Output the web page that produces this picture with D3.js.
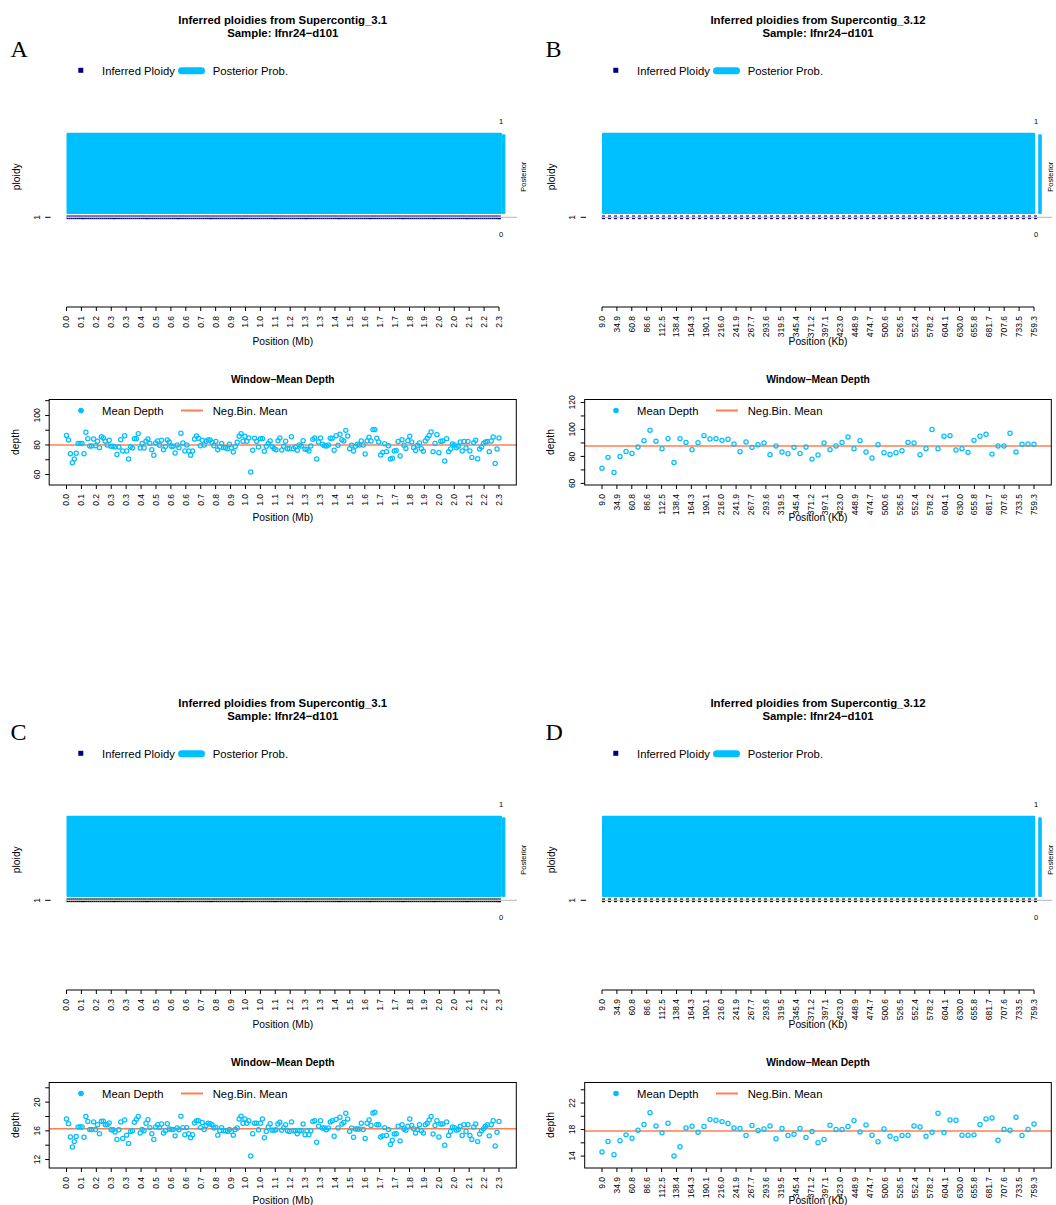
<!DOCTYPE html>
<html><head><meta charset="utf-8">
<script src="https://cdn.jsdelivr.net/npm/d3@7"></script>
<style>body{margin:0;background:#fff} svg text{font-family:"Liberation Sans",Arial,Helvetica,sans-serif}</style>
</head><body><svg id="c" width="1056" height="1205"></svg>
<script>
const sampleName = "Ifnr24\u2212d101";
const panelLetters = ["A","B","C","D"];
const contigs = ["Supercontig_3.1","Supercontig_3.12","Supercontig_3.1","Supercontig_3.12"];
const units = ["Mb","Kb","Mb","Kb"];
const tickLabelsMb = ["0.0","0.1","0.2","0.3","0.3","0.4","0.5","0.6","0.6","0.7","0.8","0.9","1.0","1.0","1.1","1.2","1.3","1.3","1.4","1.5","1.6","1.7","1.7","1.8","1.9","2.0","2.0","2.1","2.2","2.3"];
const tickLabelsKb = ["9.0","34.9","60.8","86.6","112.5","138.4","164.3","190.1","216.0","241.9","267.7","293.6","319.5","345.4","371.2","397.1","423.0","448.9","474.7","500.6","526.5","552.4","578.2","604.1","630.0","655.8","681.7","707.6","733.5","759.3"];

const depthA = [86.5,83.4,74.1,68,70.5,74.4,81.1,81.1,81,74.1,
88.6,84.3,79.3,79.3,84,79.5,82.5,78.2,85.6,84.7,
82.5,80,83.2,79.1,79.1,78.6,73.5,78.6,83.6,75.9,
86.3,75.9,70.5,78.9,78,84.3,84.3,87.7,78,81.1,
78,82.5,84,81.1,76.8,73,81.4,82.7,79.8,83.2,
76.8,78.9,83.4,82,79.1,79.1,74.6,80,78.2,87.9,
81.4,75.9,80,75.9,73,75.9,84,86.1,84.5,79.5,
83.2,80,82.5,83.4,83.4,81.8,79.5,82.3,76.8,78.6,
81.1,78.2,78.2,77.5,80.5,78,75.3,78.9,81.8,85.9,
87.7,82.5,85.9,82.5,84.7,61.7,76.4,84.5,82.5,78.6,
84.3,84.3,75.7,79.1,81.1,82.7,78.9,77.7,76.8,82.9,
84.7,76.6,79.1,82.5,77.5,77.5,85.6,77.5,78.6,76.4,
80,79.3,82.9,77.1,77.1,75.9,79.3,83.8,84.7,70.5,
82,84.7,80.5,79.5,79.3,80,84.5,84.5,76.4,86.3,
79.8,87.2,83.6,82.7,89.9,86.1,77.5,79.8,75.9,79.1,
80.5,80,82.7,80,73.9,82.7,85.2,82.7,90.4,90.4,
84.5,82,73.2,75,80.9,75.5,79.5,70.5,71,75.9,
76.2,82.3,72.6,83.6,79.8,77.7,82.9,85.9,82,78.2,
76.2,79.8,81.4,77.5,75.7,82.7,84.5,86.5,88.8,75.5,
81.1,87,74.8,82.5,82.7,69.2,84.3,75.5,77.3,80.7,
80,78.2,79.1,82,75.9,82.3,78,82.3,75.9,71.6,
81.6,83.2,70.7,77.3,78.6,81.1,82,82.3,75.5,82.7,
85.4,67.4,77.3,84.7];

const depthB = [71.3,79.3,68.1,80,83.7,82.2,87,91.7,99.4,91.2,
85.7,93.2,75.5,93.2,90.4,85,90.2,95.4,92.9,93.2,
91.9,92.7,89.2,83.5,90.7,86.7,88.7,90,81.2,87.7,
83.2,82,86.7,82.2,87,78,81,90,85,87.7,
90.4,94.4,85.7,91.7,83.2,78.8,88.7,82.7,81.5,82.7,
84.2,90.4,90,81.2,85.7,99.9,85.7,94.9,95.4,84.7,
85.7,83,91.9,94.9,96.4,81.7,87.7,87.7,97.2,83.2,
89,89.2,89];

const depthC = [17.65,17.0,15.15,13.75,14.5,15.2,16.55,16.55,16.55,15.1,
18,17.3,16.2,16.2,17.25,16.2,16.85,15.6,17.35,17.35,
16.85,16.85,17.1,16.15,16.15,15.85,14.8,16.15,17.25,14.95,
17.5,15.4,14.25,15.9,16,17.2,17.6,18,15.7,16.2,
16,17.05,17.55,16.45,15.6,14.8,16.55,16.85,16.45,16.95,
15.7,16,17,16.25,16.2,16.2,15.3,16.4,16.15,18.05,
16.45,15.45,16.45,15.6,15.05,15.45,17.1,17.4,17.4,16.45,
17.15,16.2,16.75,17.05,17,16.85,16.4,16.5,15.4,16,
16.45,16,16,15.9,16.2,15.9,15.4,16.2,16.4,17.65,
18.05,17.05,17.65,17.05,17.4,12.5,15.6,17.05,17.05,16.15,
17.05,17.65,15.05,15.9,16.55,17,16.1,16.1,16.15,16.95,
17.2,16.1,16.45,16.85,16,15.9,17.25,16,16,15.6,
16,16,16.95,15.45,16,15.45,16,17.3,17.4,14.4,
16.65,17.4,16.4,16.4,16.15,16.4,17.25,17.4,15.25,17.6,
16.4,17.9,16.95,17.15,18.45,17.65,15.9,16.4,15.1,16.25,
16.25,16.25,17.05,16.2,14.95,17.05,17.5,16.75,18.5,18.6,
16.85,16.85,15.15,15.3,16.45,15.35,16.2,14.1,14.7,15.55,
15.6,16.65,14.6,16.85,16.25,16.1,16.65,17.65,16.75,16.3,
15.7,16.2,16.85,16,15.7,16.85,17.05,17.5,18,15.55,
16.75,17.4,15.15,16.95,16.95,14.0,17.25,15.35,15.9,16.55,
16.45,16.1,16.2,16.65,15.35,16.85,15.9,16.85,15.35,14.8,
16.55,16.95,14.5,15.55,16,16.3,16.65,16.85,15.3,16.85,
17.4,13.9,15.8,17.3];

const depthD = [14.6,16.2,14.2,16.3,17.2,16.7,17.9,18.75,20.55,18.55,
17.5,18.95,14.0,15.4,18.25,18.5,17.6,18.45,19.5,19.4,
19.2,18.9,18.25,18.15,17.1,18.6,17.85,18.1,18.55,16.6,
18.15,17.1,17.3,18.15,16.8,17.7,16,16.5,18.65,18,
18,18.45,19.35,17.65,18.7,17.15,16.15,18.1,17,16.6,
17.1,17.15,18.55,18.4,17,17.6,20.45,17.55,19.45,19.4,
17.15,17.15,17.2,18.75,19.6,19.75,16.4,18.05,17.9,19.85,
17.1,18,18.85];

const negBinMean = [80, 87.8, 16.3, 17.8];
const inferredPloidy = [1, 1, 1, 1];
// posterior probability runs, in window-index units
const posteriorRunsA = [{from:0,to:224.5,p:1},{from:224.5,to:226.3,p:0.98}];
const posteriorRunsB = [{from:0,to:72.2,p:1},{from:72.7,to:73.3,p:0.98}];
const posteriorRunsC = [{from:0,to:224.5,p:1},{from:224.5,to:226.3,p:0.98}];
const posteriorRunsD = [{from:0,to:72.2,p:1},{from:72.7,to:73.3,p:0.98}];

const yDomains = [[52.9,110.8],[58.8,122.2],[10.82,22.74],[12.2,25.1]];
const yTickValues = [[60,70,80,90,100,110],[60,70,80,90,100,110,120],[12,14,16,18,20,22],[14,16,18,20,22,24]];
const yTickLabelled = [[60,80,100],[60,80,100,120],[12,16,20],[14,18,22]];

const CYAN="#00BFFF", NAVY="#000080", CORAL="#FF7F50";
const svg = d3.select("#c");

const layout = [
  {ox:0,   oy:0,   ax:[66.5,499], box:[49.2,516.3], postLab:523},
  {ox:535, oy:0,   ax:[602,1034], box:[584.7,1051.3], postLab:1050.5},
  {ox:0,   oy:683, ax:[66.5,499], box:[49.2,516.3], postLab:523},
  {ox:535, oy:683, ax:[602,1034], box:[584.7,1051.3], postLab:1050.5}
];
const depths = [depthA, depthB, depthC, depthD];
const runs = [posteriorRunsA, posteriorRunsB, posteriorRunsC, posteriorRunsD];
const ticksets = [tickLabelsMb, tickLabelsKb, tickLabelsMb, tickLabelsKb];
const ploidyColors = [NAVY, NAVY, "#000000", "#000000"];

function rotText(g, x, y, txt, size, anchor){
  return g.append("text").attr("transform",`translate(${x},${y}) rotate(-90)`)
    .attr("text-anchor",anchor||"middle").attr("font-size",size).text(txt);
}

function drawPanel(k){
  const L = layout[k], ox=L.ox, oy=L.oy;
  const depth = depths[k], N = depth.length;
  const g = svg.append("g");
  const x = d3.scaleLinear().domain([0,N-1]).range(L.ax);
  const step = x(1)-x(0);
  const ticks = ticksets[k];
  const tickPos = ticks.map((t,i)=>({lab:t, idx:i*(N-1)/(ticks.length-1)}));
  const cx = (L.box[0]+L.box[1])/2;

  // Titles
  g.append("text").attr("x",cx).attr("y",oy+23.8).attr("text-anchor","middle")
    .attr("font-weight","bold").attr("font-size",11.4).text(`Inferred ploidies from ${contigs[k]}`);
  g.append("text").attr("x",cx).attr("y",oy+36.8).attr("text-anchor","middle")
    .attr("font-weight","bold").attr("font-size",11.4).text(`Sample: ${sampleName}`);
  g.append("text").attr("x",ox+10.5).attr("y",oy+56.7)
    .style("font-family",'"Liberation Serif","DejaVu Serif",serif').attr("font-size",24).text(panelLetters[k]);

  // Legend (ploidy)
  g.append("rect").attr("x",ox+78.3).attr("y",oy+67.8).attr("width",5).attr("height",5).attr("fill",NAVY);
  g.append("text").attr("x",ox+102).attr("y",oy+75).attr("font-size",11.3).text("Inferred Ploidy");
  g.append("line").attr("x1",ox+181.5).attr("x2",ox+201.5).attr("y1",oy+70.8).attr("y2",oy+70.8)
    .attr("stroke",CYAN).attr("stroke-width",7).attr("stroke-linecap","round");
  g.append("text").attr("x",ox+212.7).attr("y",oy+75).attr("font-size",11.3).text("Posterior Prob.");

  // Ploidy plot
  const yPl = d3.scaleLinear().domain([1,2]).range([oy+217.3, oy+120]);
  const yP = d3.scaleLinear().domain([0,1]).range([oy+214, oy+132.7]);
  g.selectAll(null).data(runs[k]).join("rect")
    .attr("x",d=>x(d.from)).attr("width",d=>x(d.to)-x(d.from))
    .attr("y",d=>yP(d.p)).attr("height",d=>yP(0)-yP(d.p))
    .attr("rx",1).attr("fill",CYAN);
  g.append("line").attr("x1",x(0)-1).attr("x2",x(N-1)+18).attr("y1",yPl(1)).attr("y2",yPl(1))
    .attr("stroke","#b5b5b5").attr("stroke-width",1);
  [-1.3, 1.3].forEach(off=>{
    g.selectAll(null).data(d3.range(N)).join("line")
      .attr("x1",i=>x(i)).attr("x2",i=>x(i)+step)
      .attr("y1",yPl(inferredPloidy[k])+off).attr("y2",yPl(inferredPloidy[k])+off)
      .attr("stroke",ploidyColors[k]).attr("stroke-width",1.1).attr("stroke-dasharray","3,3");
  });
  // left axis tick "1"
  g.append("line").attr("x1",L.box[0]-4).attr("x2",L.box[0]+1.4).attr("y1",yPl(1)).attr("y2",yPl(1)).attr("stroke","#000");
  rotText(g, L.box[0]-12.3, yPl(1), "1", 8.5).attr("dy","0.35em");
  rotText(g, ox+15.9, oy+176.7, "ploidy", 10.3).attr("dy","0.35em");
  // right posterior labels
  g.append("text").attr("x",x(N-1)+2).attr("y",yP(1)-11.7).attr("dy","0.35em").attr("text-anchor","middle").attr("font-size",7.5).text("1");
  g.append("text").attr("x",x(N-1)+2).attr("y",yP(0)+20).attr("dy","0.35em").attr("text-anchor","middle").attr("font-size",7.5).text("0");
  rotText(g, L.postLab, oy+176.7, "Posterior", 7.5).attr("dy","0.35em");
  // x axis ploidy
  const axY = oy+307;
  g.append("line").attr("x1",x(0)).attr("x2",x(N-1)).attr("y1",axY).attr("y2",axY).attr("stroke","#000");
  g.selectAll(null).data(tickPos).join("line")
    .attr("x1",d=>x(d.idx)).attr("x2",d=>x(d.idx)).attr("y1",axY).attr("y2",axY+4).attr("stroke","#000");
  tickPos.forEach(d=> rotText(g, x(d.idx), axY+9, d.lab, 8.5, "end").attr("dy","0.35em"));
  g.append("text").attr("x",cx).attr("y",oy+345).attr("text-anchor","middle").attr("font-size",10.3).text(`Position (${units[k]})`);

  // Depth plot
  g.append("text").attr("x",cx).attr("y",oy+383).attr("text-anchor","middle")
    .attr("font-weight","bold").attr("font-size",10.3).text("Window\u2212Mean Depth");
  const bt = oy+399.5, bb = oy+485;
  const y = d3.scaleLinear().domain(yDomains[k]).range([bb, bt]);
  g.append("line").attr("x1",L.box[0]).attr("x2",L.box[1]).attr("y1",y(negBinMean[k])).attr("y2",y(negBinMean[k]))
    .attr("stroke",CORAL).attr("stroke-width",1.5);
  g.selectAll(null).data(depth).join("circle")
    .attr("cx",(d,i)=>x(i)).attr("cy",d=>y(d)).attr("r",2.1)
    .attr("fill","none").attr("stroke",CYAN).attr("stroke-width",1.25);
  g.append("rect").attr("x",L.box[0]).attr("y",bt).attr("width",L.box[1]-L.box[0]).attr("height",bb-bt)
    .attr("fill","none").attr("stroke","#000").attr("stroke-width",1);
  // y axis
  g.selectAll(null).data(yTickValues[k]).join("line")
    .attr("x1",L.box[0]-4).attr("x2",L.box[0]).attr("y1",d=>y(d)).attr("y2",d=>y(d)).attr("stroke","#000");
  yTickLabelled[k].forEach(v=> rotText(g, L.box[0]-12.3, y(v), String(v), 8.5).attr("dy","0.35em"));
  rotText(g, ox+15.2, oy+442, "depth", 10.3).attr("dy","0.35em");
  // x axis
  g.selectAll(null).data(tickPos).join("line")
    .attr("x1",d=>x(d.idx)).attr("x2",d=>x(d.idx)).attr("y1",bb).attr("y2",bb+4).attr("stroke","#000");
  tickPos.forEach(d=> rotText(g, x(d.idx), bb+9, d.lab, 8.5, "end").attr("dy","0.35em"));
  g.append("text").attr("x",cx).attr("y",oy+521).attr("text-anchor","middle").attr("font-size",10.3).text(`Position (${units[k]})`);
  // legend
  g.append("circle").attr("cx",ox+81).attr("cy",oy+410.5).attr("r",2.8).attr("fill",CYAN);
  g.append("text").attr("x",ox+102).attr("y",oy+414.5).attr("font-size",11.3).text("Mean Depth");
  g.append("line").attr("x1",ox+181).attr("x2",ox+203).attr("y1",oy+410.5).attr("y2",oy+410.5)
    .attr("stroke",CORAL).attr("stroke-width",2);
  g.append("text").attr("x",ox+212.7).attr("y",oy+414.5).attr("font-size",11.3).text("Neg.Bin. Mean");
}
[0,1,2,3].forEach(drawPanel);
</script></body></html>
